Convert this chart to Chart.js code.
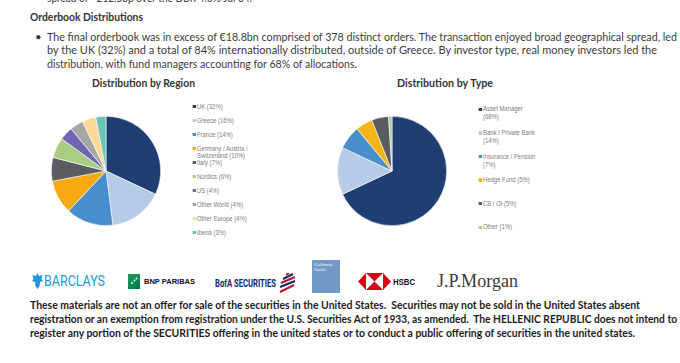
<!DOCTYPE html>
<html><head><meta charset="utf-8">
<script src="https://cdn.jsdelivr.net/npm/chart.js"></script>
<style>
html,body{margin:0;padding:0;background:#fff;}
body{width:680px;height:363px;position:relative;overflow:hidden;font-family:Lato,"Open Sans",sans-serif;}
.ln{position:absolute;white-space:nowrap;line-height:14px;height:14px;}
.fit{display:inline-block;transform-origin:0 50%;}
.body{font-size:11.5px;color:#3b3b3b;}
.disc{font-size:11px;font-weight:700;color:#1c1c1c;}
.ttl{font-size:11.5px;font-weight:700;color:#333;}
.leg{position:absolute;font-family:"Liberation Sans",Arial,sans-serif;font-size:6.8px;color:#7d7d7d;transform:scaleX(0.87);transform-origin:0 0;}
.leg .it{position:absolute;left:0;white-space:pre;}
.leg .mk{position:absolute;left:-5.5px;width:4px;height:3.5px;}
canvas{position:absolute;}
</style></head><body>

<!-- document text -->
<div class="ln body" style="left:47px;top:-9px"><span class="fit" data-w="205">spread of ~212.5bp over the DBR 4.0% Jul 34.</span></div>
<div class="ln ttl" style="left:30px;top:10px;text-decoration:underline;"><span class="fit" data-w="113">Orderbook Distributions</span></div>
<div class="ln body" style="left:35px;top:30px;">&#8226;</div>
<div class="ln body" style="left:47px;top:30px"><span class="fit" data-w="630">The final orderbook was in excess of €18.8bn comprised of 378 distinct orders. The transaction enjoyed broad geographical spread, led</span></div>
<div class="ln body" style="left:47px;top:43px"><span class="fit" data-w="610">by the UK (32%) and a total of 84% internationally distributed, outside of Greece. By investor type, real money investors led the</span></div>
<div class="ln body" style="left:47px;top:56.5px"><span class="fit" data-w="310">distribution, with fund managers accounting for 68% of allocations.</span></div>

<div class="ln ttl" style="left:92px;top:76px"><span class="fit" data-w="103">Distribution by Region</span></div>
<div class="ln ttl" style="left:397px;top:76px"><span class="fit" data-w="96">Distribution by Type</span></div>

<canvas id="c1" width="110" height="110" style="left:51px;top:116px"></canvas>
<canvas id="c2" width="110" height="110" style="left:337px;top:116px"></canvas>
<div class="leg" id="leg1" style="left:197px;top:0px"></div>
<div class="leg" id="leg2" style="left:483px;top:0px"></div>

<!-- bank logos -->
<svg style="position:absolute;left:32px;top:273px" width="11" height="16" viewBox="0 0 11 16">
  <path d="M5.5 0 L7 3 L10.5 2 L9.5 6 L11 8 L8 9 L7.5 13 L5.5 16 L3.5 13 L3 9 L0 8 L1.5 6 L0.5 2 L4 3 Z" fill="#1b9ad7"/>
</svg>
<div class="ln" style="left:44px;top:274px;font-size:15px;color:#1b9ad7;font-family:'Roboto',sans-serif;"><span class="fit" data-w="61">BARCLAYS</span></div>

<div style="position:absolute;left:128px;top:274px;width:12px;height:15px;background:linear-gradient(135deg,#1ea05a,#00784a);"></div>
<svg style="position:absolute;left:130px;top:277px" width="8" height="9"><circle cx="2" cy="6" r="1" fill="#fff"/><circle cx="4.5" cy="3.5" r="1" fill="#fff"/><circle cx="6.5" cy="1.5" r="0.9" fill="#fff"/></svg>
<div class="ln" style="left:144px;top:275px;font-size:8px;font-weight:700;color:#111;font-family:'Liberation Sans',Arial,sans-serif;"><span class="fit" data-w="51">BNP PARIBAS</span></div>

<div class="ln" style="left:215px;top:277px;font-size:10.5px;font-weight:700;color:#0b2a6b;font-family:'Roboto',sans-serif;"><span class="fit" data-w="61">BofA SECURITIES</span></div>
<svg style="position:absolute;left:277px;top:273px" width="20" height="20" viewBox="0 0 20 20">
  <g stroke-width="2" stroke-linecap="butt">
    <line x1="9" y1="2" x2="12" y2="0" stroke="#c8102e"/>
    <line x1="6" y1="6" x2="16" y2="1" stroke="#0b2a6b"/>
    <line x1="4" y1="10" x2="18" y2="4" stroke="#c8102e"/>
    <line x1="3" y1="14" x2="18" y2="8" stroke="#0b2a6b"/>
    <line x1="3" y1="19" x2="17" y2="12" stroke="#c8102e"/>
  </g>
</svg>

<div style="position:absolute;left:312px;top:260px;width:28px;height:33px;background:#7399c7;"></div>
<div style="position:absolute;left:314px;top:262px;font-family:'Liberation Serif',serif;font-size:5px;line-height:5px;color:#eef3fa;">Goldman<br>Sachs</div>

<svg style="position:absolute;left:358px;top:273px" width="33" height="17" viewBox="0 0 33 17">
  <rect x="8" y="0" width="17" height="17" fill="#fff"/>
  <polygon points="0,8.5 8,0 8,17" fill="#db0011"/>
  <polygon points="33,8.5 25,0 25,17" fill="#db0011"/>
  <polygon points="8,0 25,0 16.5,8.5" fill="#db0011"/>
  <polygon points="8,17 25,17 16.5,8.5" fill="#db0011"/>
</svg>
<div class="ln" style="left:393px;top:275px;font-size:9.5px;font-weight:700;color:#111;font-family:'Liberation Sans',Arial,sans-serif;"><span class="fit" data-w="22">HSBC</span></div>

<div class="ln" style="left:437px;top:274px;font-size:18px;color:#3a3a3a;font-family:'Liberation Serif','DejaVu Serif',serif;"><span class="fit" data-w="81">J.P.Morgan</span></div>

<div class="ln disc" style="left:30px;top:298px"><span class="fit" data-w="610">These materials are not an offer for sale of the securities in the United States.&nbsp; Securities may not be sold in the United States absent</span></div>
<div class="ln disc" style="left:30px;top:312px"><span class="fit" data-w="647">registration or an exemption from registration under the U.S. Securities Act of 1933, as amended.&nbsp; The HELLENIC REPUBLIC does not intend to</span></div>
<div class="ln disc" style="left:30px;top:326px"><span class="fit" data-w="605">register any portion of the SECURITIES offering in the united states or to conduct a public offering of securities in the united states.</span></div>

<script>
// ---- data ----
const regionLabels = ["UK (32%)", "Greece (16%)", "France (14%)", "Germany / Austria /\nSwitzerland (10%)", "Italy (7%)", "Nordics (6%)", "US (4%)", "Other World (4%)", "Other Europe (4%)", "Iberia (3%)"];
const regionValues = [32, 16, 14, 10, 7, 6, 4, 4, 4, 3];
const regionColors = ["#1f3f73", "#b7cbe8", "#4a8fcd", "#f7a912", "#595d61", "#a9cd82", "#6f66b3", "#a6a6a6", "#fcd998", "#6cc3b8"];

const typeLabels = ["Asset Manager\n(68%)", "Bank / Private Bank\n(14%)", "Insurance / Pension\n(7%)", "Hedge Fund (5%)", "CB / OI (5%)", "Other (1%)"];
const typeValues = [68, 14, 7, 5, 5, 1];
const typeColors = ["#1f3f73", "#b7cbe8", "#4a8fcd", "#f6b417", "#595d61", "#a9d18e"];

function pie(id, labels, values, colors) {
  new Chart(document.getElementById(id), {
    type: 'pie',
    data: { labels: labels, datasets: [{ data: values, backgroundColor: colors, borderColor: '#ffffff', borderWidth: 0.6 }] },
    options: {
      responsive: false, animation: false, events: [],
      layout: { padding: 0 },
      plugins: { legend: { display: false }, tooltip: { enabled: false }, title: { display: false } }
    }
  });
}
pie('c1', regionLabels, regionValues, regionColors);
pie('c2', typeLabels, typeValues, typeColors);

function legend(id, labels, colors, top, step, lh) {
  const el = document.getElementById(id);
  labels.forEach((t, i) => {
    const d = document.createElement('div');
    d.className = 'it';
    d.style.top = (top + i * step) + 'px';
    d.style.lineHeight = lh + 'px';
    d.textContent = t;
    const m = document.createElement('div');
    m.className = 'mk';
    m.style.top = (lh / 2 - 1.75) + 'px';
    m.style.background = colors[i];
    d.appendChild(m);
    el.appendChild(d);
  });
}
legend('leg1', regionLabels, regionColors, 103, 14, 7.4);
legend('leg2', typeLabels, typeColors, 105.3, 23.6, 8);

function fit() {
  document.querySelectorAll('.fit').forEach(s => {
    s.style.transform = 'none';
    const w = s.getBoundingClientRect().width;
    const t = parseFloat(s.dataset.w);
    if (w > 0) s.style.transform = 'scaleX(' + (t / w) + ')';
  });
}
fit();
if (document.fonts && document.fonts.ready) document.fonts.ready.then(fit);
</script>
</body></html>
